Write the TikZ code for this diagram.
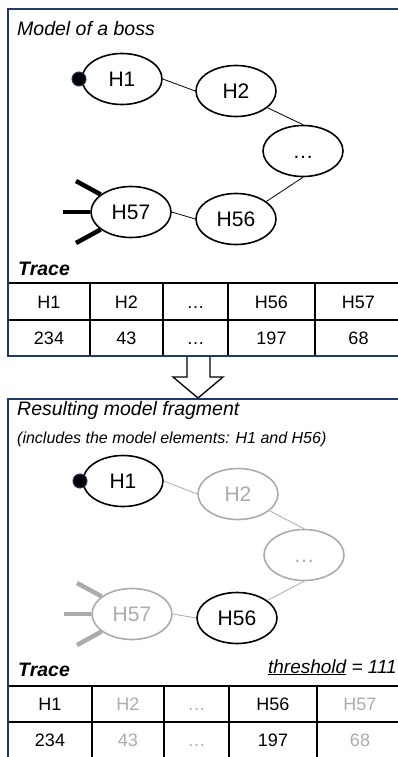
\documentclass[tikz,border=0pt]{standalone}
\usepackage{fontspec}
\setmainfont{Liberation Sans}
\usetikzlibrary{shapes.geometric}
\definecolor{framenavy}{HTML}{1F3864}
\definecolor{fadegray}{HTML}{ABABAB}

\begin{document}
\begin{tikzpicture}[x=1pt,y=-1pt,
    state/.style={ellipse,draw,line width=1.6pt,minimum width=80pt,minimum height=51pt,inner sep=0pt,
        text height=15pt,text depth=0pt,font=\fontsize{21}{24}\selectfont},
    faded/.style={draw=fadegray,text=fadegray},
    edge/.style={line width=0.8pt},
    leg/.style={line width=4.5pt},
    startdot/.style={circle,fill=black,draw=framenavy,line width=1pt,minimum size=14pt,inner sep=0pt},
    cell/.style={draw,line width=1.4pt,inner sep=0pt,text height=13pt,text depth=0pt,font=\fontsize{18}{20}\selectfont},
    title/.style={anchor=base west,inner sep=0pt,font=\fontsize{19.5}{22}\selectfont\itshape},
    panel/.style={draw=framenavy,line width=2.5pt}]
    \useasboundingbox (0,0) rectangle (398,757);

    % model of a boss
    \node[state] (h1) at (122,79) {H1};
    \node[state] (h2) at (236,91) {H2};
    \node[state] (hdots) at (303,151) {…};
    \node[state] (h56) at (236,219) {H56};
    \node[state] (h57) at (131,212) {H57};
    \node[startdot] (h1dot) at (79,79) {};

    \coordinate (leg1) at (76,181);
    \coordinate (leg2) at (63,212);
    \coordinate (leg3) at (76,243);
    \draw[leg] (leg1) -- (h57.150);
    \draw[leg] (leg2) -- (h57.west);
    \draw[leg] (leg3) -- (h57.210);

    \foreach \from/\to in {h1.east/h2.west,h2.-28/hdots.north,hdots.south/h56.30,h57.east/h56.west}
        \draw[edge] (\from)--(\to);

    \node[title] (boss) at (17,36) {Model of a boss};
    \node[title,font=\fontsize{19.5}{22}\selectfont\bfseries\itshape] (trace) at (18,275) {Trace};

    \foreach \key/\val/\cx/\w [count=\i] in {H1/234/49/82,H2/43/126.5/73,…/…/195.5/65,H56/197/271.5/87,H57/68/358.5/87} {
        \node[cell,minimum width=\w pt,minimum height=37pt] (trk\i) at (\cx,301.5) {\key};
        \node[cell,minimum width=\w pt,minimum height=36pt] (trv\i) at (\cx,338) {\val};
    }

    % arrow between the panels
    \draw[line width=1.3pt,fill=white] (187,357) -- (187,377) -- (173,377) -- (198,398)
        -- (223,377) -- (210,377) -- (210,357);

    % resulting model fragment
    \node[state] (res1) at (123,481) {H1};
    \node[state,faded] (res2) at (238,494) {H2};
    \node[state,faded] (resdots) at (304,555) {…};
    \node[state] (res56) at (237,618) {H56};
    \node[state,faded] (res57) at (132,614) {H57};
    \node[startdot] (res1dot) at (80,481) {};

    \coordinate (rleg1) at (77,583);
    \coordinate (rleg2) at (64,614);
    \coordinate (rleg3) at (77,645);
    \draw[leg,fadegray] (rleg1) -- (res57.150);
    \draw[leg,fadegray] (rleg2) -- (res57.west);
    \draw[leg,fadegray] (rleg3) -- (res57.210);

    \foreach \from/\to in {res1.east/res2.west,res2.-28/resdots.north,resdots.south/res56.30,res57.east/res56.west}
        \draw[edge,fadegray] (\from)--(\to);

    \node[title] (result) at (17,415) {Resulting model fragment};
    \node[title,font=\fontsize{16}{18}\selectfont\itshape] (includes) at (17,443) {(includes the model elements: H1 and H56)};
    \node[title,font=\fontsize{19.5}{22}\selectfont\bfseries\itshape] (rtrace) at (18,676) {Trace};
    \node[anchor=base east,inner sep=0pt,font=\fontsize{19}{22}\selectfont\itshape] (thresh) at (397,673) {\underline{threshold} = 111};

    \foreach \key/\val/\cx/\w/\tone [count=\i] in {H1/234/50/84/black,H2/43/128/72/fadegray,…/…/196.5/65/fadegray,H56/197/273/88/black,H57/68/360/86/fadegray} {
        \node[cell,text=\tone,minimum width=\w pt,minimum height=36pt] (rsk\i) at (\cx,704) {\key};
        \node[cell,text=\tone,minimum width=\w pt,minimum height=36pt] (rsv\i) at (\cx,740) {\val};
    }

    % frames
    \draw[panel] (8,9) rectangle (406,356);
    \draw[panel] (8,399) rectangle (406,775);
\end{tikzpicture}
\end{document}
